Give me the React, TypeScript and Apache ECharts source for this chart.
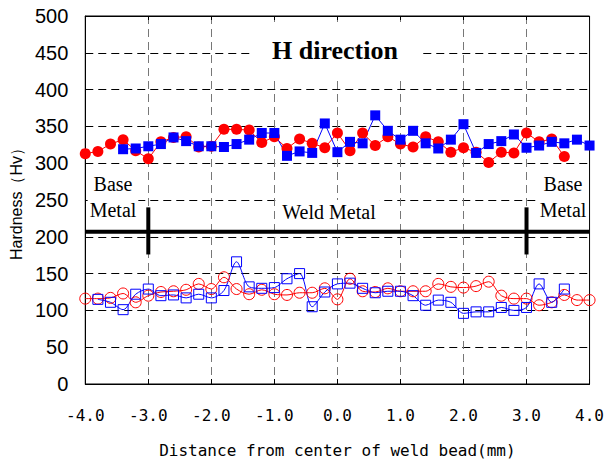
import React, { useEffect, useRef } from "react";
import * as echarts from "echarts";

// Measurement positions along the weld (mm)
const POSITIONS = [
  -4.0, -3.8, -3.6, -3.4, -3.2, -3.0, -2.8, -2.6, -2.4, -2.2, -2.0, -1.8, -1.6, -1.4,
  -1.2, -1.0, -0.8, -0.6, -0.4, -0.2, 0.0, 0.2, 0.4, 0.6, 0.8, 1.0, 1.2, 1.4, 1.6,
  1.8, 2.0, 2.2, 2.4, 2.6, 2.8, 3.0, 3.2, 3.4, 3.6, 3.8, 4.0,
];

// Upper (filled) series
const RED_FILLED = [
  313, 316, 326, 332, 317, 306, 329, 335, 336, 322, 323, 346, 346, 345, 328, 336, 320, 333, 327, 321,
  341, 317, 341, 324, 336, 326, 322, 336, 329, 315, 321, 315, 301, 315, 314, 341, 329, 333, 309, null, null,
];
const BLUE_FILLED = [
  null, null, null,
  319, 320, 323, 326, 335, 330, 323, 323, 322, 326, 332, 341, 341, 310, 316, 314, 354,
  315, 329, 327, 365, 344, 332, 344, 327, 320, 332, 353, 314, 326, 330, 339, 321, 324, 329, 327, 332, 324,
];

// Lower (open) series
const RED_OPEN = [
  116, 116, 117, 123, 111, 120, 125, 126, 128, 136, 129, 145, 129, 122, 128, 122, 121, 124, 124, 130,
  115, 143, 126, 125, 130, 126, 126, 126, 136, 132, 131, 133, 139, 120, 116, 116, 107, 111, 121, 114, 114,
];
const BLUE_OPEN = [
  null,
  115, 111, 101, 122, 129, 120, 121, 117, 122, 117, 127, 166, 132, 130, 131, 143, 150, 105, 125,
  136, 137, 130, 124, 126, 126, 120, 107, 114, 111, 96, 98, 98, 104, 100, 104, 136, 111, 129,
  null, null,
];

// Weld zone boundary markers (data coordinates)
const ZONE_LINE_Y = 207;
const ZONE_LINE_X = [-4.0, 4.0];
const BOUNDARY_X = [-3.0, 3.0];
const BOUNDARY_Y = [176, 240];

const X_TICK_LABELS = ["-4.0", "-3.0", "-2.0", "-1.0", "0.0", "1.0", "2.0", "3.0", "4.0"];
const X_TICKS = [-4, -3, -2, -1, 0, 1, 2, 3, 4];

const pairs = (vals: (number | null)[]) =>
  POSITIONS.map((x, i) => [x, vals[i]]).filter((p) => p[1] !== null);

const SERIF = "'Liberation Serif', 'Times New Roman', serif";
const SANS = "'Liberation Sans', Arial, sans-serif";
const MONO = "'DejaVu Sans Mono', monospace";

export default function App() {
  const ref = useRef<HTMLDivElement>(null);
  useEffect(() => {
    if (!ref.current) return;
    const chart = echarts.init(ref.current, undefined, { renderer: "svg" });
    const open = (c: string) => ({ color: "rgba(0,0,0,0)", borderColor: c, borderWidth: 1 });
    const label = (text: string, x: number, y: number, pad: number[]) => ({
      type: "text",
      x,
      y,
      z: 10,
      style: {
        text,
        font: `20px ${SERIF}`,
        fill: "#000",
        align: "center",
        verticalAlign: "middle",
        backgroundColor: "#fff",
        padding: pad,
      },
    });
    chart.setOption({
      animation: false,
      grid: { left: 83, right: 15, top: 16, bottom: 79, show: true, borderColor: "#000", borderWidth: 1 },
      xAxis: [
        {
          type: "value",
          min: -4,
          max: 4,
          interval: 1,
          position: "bottom",
          axisLine: { show: true, onZero: false, lineStyle: { color: "#000", width: 1 } },
          axisTick: { show: true, inside: true, length: 5, lineStyle: { color: "#000" } },
          axisLabel: {
            margin: 23,
            color: "#000",
            fontSize: 16,
            fontFamily: MONO,
            formatter: (v: number) => X_TICK_LABELS[X_TICKS.indexOf(Math.round(v))] ?? "",
          },
          splitLine: { show: true, showMinLine: false, showMaxLine: false, lineStyle: { color: "#777", type: [8, 5], width: 1 } },
          name: "Distance from center of weld bead(mm)",
          nameLocation: "middle",
          nameGap: 58,
          nameTextStyle: { color: "#000", fontSize: 16, fontFamily: MONO },
        },
        {
          type: "value",
          min: -4,
          max: 4,
          interval: 1,
          position: "top",
          axisLine: { show: true, onZero: false, lineStyle: { color: "#000", width: 1 } },
          axisTick: { show: true, inside: true, length: 4, lineStyle: { color: "#000" } },
          axisLabel: { show: false },
          splitLine: { show: false },
        },
      ],
      yAxis: {
        type: "value",
        min: 0,
        max: 500,
        interval: 50,
        axisLine: { show: true, onZero: false, lineStyle: { color: "#000", width: 1 } },
        axisTick: { show: false },
        axisLabel: { margin: 17, color: "#000", fontSize: 20, fontFamily: SANS },
        splitLine: { show: true, showMinLine: false, showMaxLine: false, lineStyle: { color: "#000", type: [8, 5], width: 1 } },
        name: "Hardness（Hv）",
        nameLocation: "middle",
        nameGap: 55,
        nameTextStyle: { color: "#000", fontSize: 16, fontFamily: SANS },
      },
      series: [
        {
          type: "line",
          data: [[ZONE_LINE_X[0], ZONE_LINE_Y], [ZONE_LINE_X[1], ZONE_LINE_Y]],
          symbol: "none",
          lineStyle: { color: "#000", width: 4 },
          silent: true,
        },
        ...BOUNDARY_X.map((bx) => ({
          type: "line",
          data: [[bx, BOUNDARY_Y[0]], [bx, BOUNDARY_Y[1]]],
          symbol: "none",
          lineStyle: { color: "#000", width: 4 },
          silent: true,
        })),
        {
          type: "line",
          data: pairs(RED_OPEN),
          smooth: 0.3,
          symbol: "circle",
          symbolSize: 11,
          showAllSymbol: true,
          lineStyle: { color: "#f00", width: 1 },
          itemStyle: open("#f00"),
        },
        {
          type: "line",
          data: pairs(BLUE_OPEN),
          smooth: 0.3,
          symbol: "rect",
          symbolSize: 10,
          showAllSymbol: true,
          lineStyle: { color: "#00f", width: 1 },
          itemStyle: open("#00f"),
        },
        {
          type: "line",
          data: pairs(RED_FILLED),
          symbol: "circle",
          symbolSize: 11,
          showAllSymbol: true,
          lineStyle: { color: "#f00", width: 1 },
          itemStyle: { color: "#f00" },
        },
        {
          type: "line",
          data: pairs(BLUE_FILLED),
          symbol: "rect",
          symbolSize: 10,
          showAllSymbol: true,
          lineStyle: { color: "#00f", width: 1 },
          itemStyle: { color: "#00f" },
        },
      ],
      graphic: [
        {
          type: "text",
          x: 335,
          y: 50,
          z: 10,
          style: {
            text: "H direction",
            font: `bold 26px ${SERIF}`,
            fill: "#000",
            align: "center",
            verticalAlign: "middle",
            backgroundColor: "#fff",
            padding: [14, 22, 16, 22],
          },
        },
        label("Base", 113, 184, [1, 2, 1, 2]),
        label("Metal", 113, 210, [1, 2, 1, 2]),
        label("Weld Metal", 329, 212, [2, 4, 2, 4]),
        label("Base", 563, 184, [1, 2, 1, 2]),
        label("Metal", 563, 210, [1, 2, 1, 2]),
      ],
    });
    return () => chart.dispose();
  }, []);
  return (
    <div
      ref={ref}
      style={{ position: "fixed", left: 0, top: 0, width: 607, height: 463, background: "#fff" }}
    />
  );
}
